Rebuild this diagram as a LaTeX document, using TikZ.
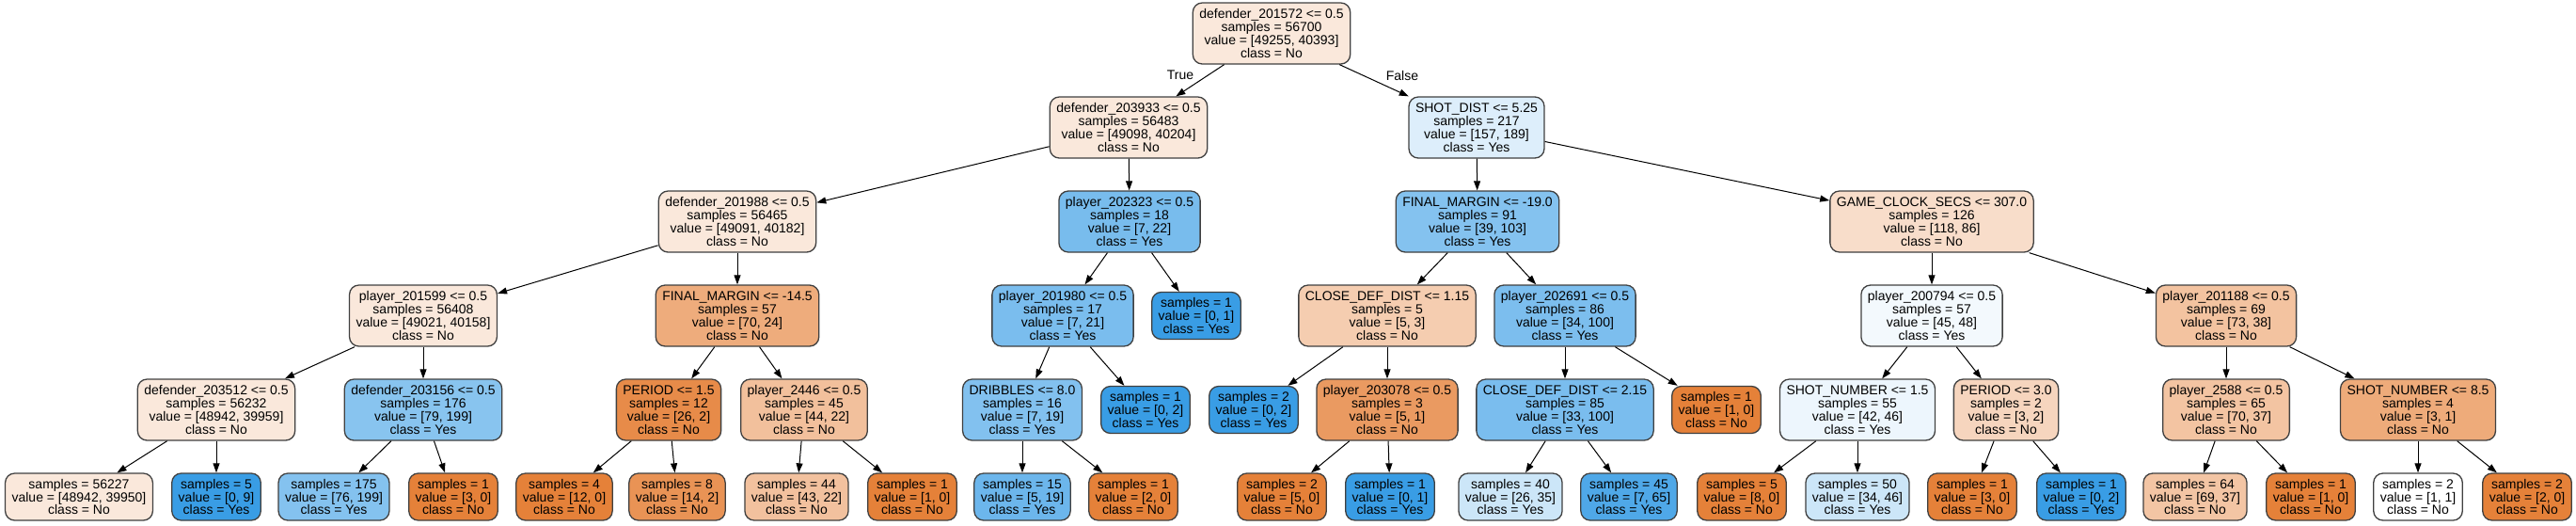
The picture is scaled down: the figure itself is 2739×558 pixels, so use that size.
\documentclass[tikz,border=0pt]{standalone}
\usepackage{fontspec}
\setmainfont{Liberation Sans}
\usetikzlibrary{arrows.meta}
\definecolor{orng}{RGB}{229,129,57}
\definecolor{blu}{RGB}{57,157,229}
\tikzset{
  tnode/.style={draw=black!75, line width=1.3pt, rounded corners=10pt, align=center,
    inner xsep=7pt, inner ysep=0pt, font=\fontsize{14}{13.8}\selectfont},
  split/.style={tnode, minimum height=65pt},
  leaf/.style={tnode, minimum height=50pt},
  arr/.style={line width=1pt, -{Triangle[length=10pt,width=7pt]}}
}

\begin{document}
\begin{tikzpicture}[x=1pt, y=-1pt]
  \useasboundingbox (0,0) rectangle (2739,558);
  % depth 0
  \node[split, fill=orng!18] (n0) at (1352,35.5) {defender\_201572 <= 0.5\\samples = 56700\\value = [49255, 40393]\\class = No};
  % depth 1
  \node[split, fill=orng!18] (n1) at (1200,135.5) {defender\_203933 <= 0.5\\samples = 56483\\value = [49098, 40204]\\class = No};
  \node[split, fill=blu!17] (n24) at (1570,135.5) {SHOT\_DIST <= 5.25\\samples = 217\\value = [157, 189]\\class = Yes};
  % depth 2
  \node[split, fill=orng!18] (n2) at (784,235.5) {defender\_201988 <= 0.5\\samples = 56465\\value = [49091, 40182]\\class = No};
  \node[split, fill=blu!68] (n17) at (1201,235.5) {player\_202323 <= 0.5\\samples = 18\\value = [7, 22]\\class = Yes};
  \node[split, fill=blu!62] (n25) at (1571,235.5) {FINAL\_MARGIN <= -19.0\\samples = 91\\value = [39, 103]\\class = Yes};
  \node[split, fill=orng!27] (n36) at (2054,235.5) {GAME\_CLOCK\_SECS <= 307.0\\samples = 126\\value = [118, 86]\\class = No};
  % depth 3
  \node[split, fill=orng!18] (n3) at (450,335.5) {player\_201599 <= 0.5\\samples = 56408\\value = [49021, 40158]\\class = No};
  \node[split, fill=orng!66] (n10) at (784,335.5) {FINAL\_MARGIN <= -14.5\\samples = 57\\value = [70, 24]\\class = No};
  \node[split, fill=blu!67] (n18) at (1130,335.5) {player\_201980 <= 0.5\\samples = 17\\value = [7, 21]\\class = Yes};
  \node[leaf, fill=blu] (n23) at (1272,335.5) {samples = 1\\value = [0, 1]\\class = Yes};
  \node[split, fill=orng!40] (n26) at (1475,335.5) {CLOSE\_DEF\_DIST <= 1.15\\samples = 5\\value = [5, 3]\\class = No};
  \node[split, fill=blu!66] (n31) at (1664,335.5) {player\_202691 <= 0.5\\samples = 86\\value = [34, 100]\\class = Yes};
  \node[split, fill=blu!6] (n37) at (2054,335.5) {player\_200794 <= 0.5\\samples = 57\\value = [45, 48]\\class = Yes};
  \node[split, fill=orng!48] (n44) at (2367,335.5) {player\_201188 <= 0.5\\samples = 69\\value = [73, 38]\\class = No};
  % depth 4
  \node[split, fill=orng!18] (n4) at (230,435.5) {defender\_203512 <= 0.5\\samples = 56232\\value = [48942, 39959]\\class = No};
  \node[split, fill=blu!60] (n7) at (450,435.5) {defender\_203156 <= 0.5\\samples = 176\\value = [79, 199]\\class = Yes};
  \node[split, fill=orng!92] (n11) at (711,435.5) {PERIOD <= 1.5\\samples = 12\\value = [26, 2]\\class = No};
  \node[split, fill=orng!50] (n14) at (855,435.5) {player\_2446 <= 0.5\\samples = 45\\value = [44, 22]\\class = No};
  \node[split, fill=blu!63] (n19) at (1087,435.5) {DRIBBLES <= 8.0\\samples = 16\\value = [7, 19]\\class = Yes};
  \node[leaf, fill=blu] (n22) at (1218,435.5) {samples = 1\\value = [0, 2]\\class = Yes};
  \node[leaf, fill=blu] (n27) at (1333,435.5) {samples = 2\\value = [0, 2]\\class = Yes};
  \node[split, fill=orng!80] (n28) at (1475,435.5) {player\_203078 <= 0.5\\samples = 3\\value = [5, 1]\\class = No};
  \node[split, fill=blu!67] (n32) at (1664,435.5) {CLOSE\_DEF\_DIST <= 2.15\\samples = 85\\value = [33, 100]\\class = Yes};
  \node[leaf, fill=orng] (n35) at (1825,435.5) {samples = 1\\value = [1, 0]\\class = No};
  \node[split, fill=blu!9] (n38) at (1975,435.5) {SHOT\_NUMBER <= 1.5\\samples = 55\\value = [42, 46]\\class = Yes};
  \node[split, fill=orng!33] (n41) at (2133,435.5) {PERIOD <= 3.0\\samples = 2\\value = [3, 2]\\class = No};
  \node[split, fill=orng!47] (n45) at (2367,435.5) {player\_2588 <= 0.5\\samples = 65\\value = [70, 37]\\class = No};
  \node[split, fill=orng!67] (n48) at (2571,435.5) {SHOT\_NUMBER <= 8.5\\samples = 4\\value = [3, 1]\\class = No};
  % depth 5
  \node[leaf, fill=orng!18] (n5) at (84,528) {samples = 56227\\value = [48942, 39950]\\class = No};
  \node[leaf, fill=blu] (n6) at (230,528) {samples = 5\\value = [0, 9]\\class = Yes};
  \node[leaf, fill=blu!62] (n8) at (355,528) {samples = 175\\value = [76, 199]\\class = Yes};
  \node[leaf, fill=orng] (n9) at (482,528) {samples = 1\\value = [3, 0]\\class = No};
  \node[leaf, fill=orng] (n12) at (600,528) {samples = 4\\value = [12, 0]\\class = No};
  \node[leaf, fill=orng!86] (n13) at (720,528) {samples = 8\\value = [14, 2]\\class = No};
  \node[leaf, fill=orng!49] (n15) at (847,528) {samples = 44\\value = [43, 22]\\class = No};
  \node[leaf, fill=orng] (n16) at (970,528) {samples = 1\\value = [1, 0]\\class = No};
  \node[leaf, fill=blu!74] (n20) at (1087,528) {samples = 15\\value = [5, 19]\\class = Yes};
  \node[leaf, fill=orng] (n21) at (1205,528) {samples = 1\\value = [2, 0]\\class = No};
  \node[leaf, fill=orng] (n29) at (1363,528) {samples = 2\\value = [5, 0]\\class = No};
  \node[leaf, fill=blu] (n30) at (1478,528) {samples = 1\\value = [0, 1]\\class = Yes};
  \node[leaf, fill=blu!26] (n33) at (1606,528) {samples = 40\\value = [26, 35]\\class = Yes};
  \node[leaf, fill=blu!89] (n34) at (1732,528) {samples = 45\\value = [7, 65]\\class = Yes};
  \node[leaf, fill=orng] (n39) at (1852,528) {samples = 5\\value = [8, 0]\\class = No};
  \node[leaf, fill=blu!26] (n40) at (1975,528) {samples = 50\\value = [34, 46]\\class = Yes};
  \node[leaf, fill=orng] (n42) at (2097,528) {samples = 1\\value = [3, 0]\\class = No};
  \node[leaf, fill=blu] (n43) at (2213,528) {samples = 1\\value = [0, 2]\\class = Yes};
  \node[leaf, fill=orng!46] (n46) at (2334,528) {samples = 64\\value = [69, 37]\\class = No};
  \node[leaf, fill=orng] (n47) at (2457,528) {samples = 1\\value = [1, 0]\\class = No};
  \node[leaf, fill=white] (n49) at (2571,528) {samples = 2\\value = [1, 1]\\class = No};
  \node[leaf, fill=orng] (n50) at (2687,528) {samples = 2\\value = [2, 0]\\class = No};
  % branch labels
  \node[font=\fontsize{14}{14}\selectfont] (tlbl) at (1255,80) {True};
  \node[font=\fontsize{14}{14}\selectfont] (flbl) at (1491,80) {False};
  % edges
  \foreach \a/\b in {n0/n1, n0/n24, n1/n2, n1/n17, n24/n25, n24/n36,
      n2/n3, n2/n10, n17/n18, n17/n23, n25/n26, n25/n31, n36/n37, n36/n44,
      n3/n4, n3/n7, n10/n11, n10/n14, n18/n19, n18/n22, n26/n27, n26/n28,
      n31/n32, n31/n35, n37/n38, n37/n41, n44/n45, n44/n48,
      n4/n5, n4/n6, n7/n8, n7/n9, n11/n12, n11/n13, n14/n15, n14/n16,
      n19/n20, n19/n21, n28/n29, n28/n30, n32/n33, n32/n34,
      n38/n39, n38/n40, n41/n42, n41/n43, n45/n46, n45/n47, n48/n49, n48/n50}
    \draw[arr] (\a) -- (\b);
\end{tikzpicture}
\end{document}
